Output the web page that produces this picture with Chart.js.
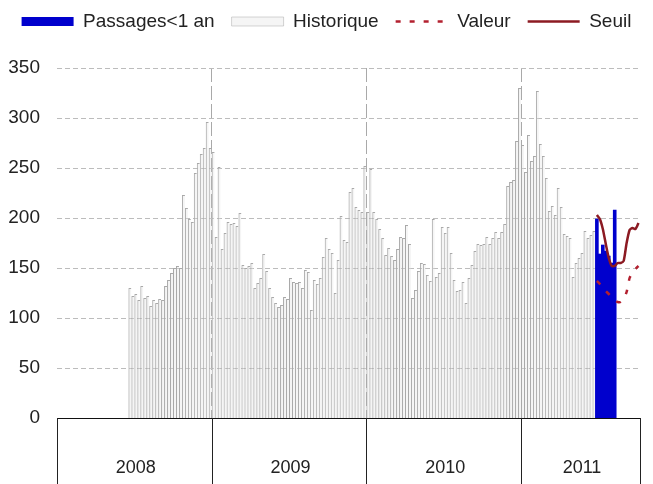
<!DOCTYPE html>
<html>
<head>
<meta charset="utf-8">
<script src="https://cdn.jsdelivr.net/npm/chart.js@4.4.0/dist/chart.umd.min.js"></script>
<style>
  html, body { margin: 0; padding: 0; background: #fff; }
</style>
</head>
<body>
<canvas id="chart" width="653" height="484"></canvas>
<script>
// weekly series, 2008 to week 40 of 2011
var years = ['2008', '2009', '2010', '2011'];
var weeksPerYear = [52, 52, 52, 40];

// Historique starts at week 25 of 2008 (index 24)
var historiqueStart = 24;
var historique = [
  // 2008
  130, 122, 124, 118, 132, 120, 122, 112, 118, 115, 119, 118, 132, 138,
  145, 150, 152, 150, 223, 210, 199, 196, 245, 255, 264, 270, 296, 270,
  // 2009
  266, 181, 251, 169, 185, 196, 194, 195, 192, 205, 153, 150, 152, 155,
  130, 135, 140, 164, 147, 130, 121, 115, 111, 113, 121, 119,
  140, 136, 135, 136, 130, 148, 146, 108, 138, 134, 140, 161, 180, 169,
  165, 125, 158, 202, 178, 176, 226, 230, 211, 208, 206, 252,
  // 2010
  206, 249, 206, 199, 189, 180, 163, 170, 162, 158,
  169, 181, 180, 193, 174, 120, 128, 147, 155, 154,
  143, 137, 199, 141, 145, 191, 185, 191, 165, 138,
  127, 128, 136, 115, 140, 153, 167, 174, 173, 174,
  181, 174, 180, 186, 180, 186, 194, 232, 236, 238, 277, 330,
  // 2011
  273, 246, 283, 257, 262, 327, 274, 262, 240, 207,
  212, 203, 230, 211, 184, 182, 180, 141, 155, 160,
  165, 187, 180, 183, 187
];

// current season, from week 26 of 2011 (index 181)
var passagesStart = 181;
var passages = [199, 164, 173, 167, 162, 155, 208];

var courbesStart = 181;
var valeur = [137, 134, 130, 127, 124, 121, 118, 116, 116, 119, 126, 140, 145, 149, 152];
var seuil = [203, 199, 189, 174, 160, 152, 152, 155, 155, 157, 175, 188, 190, 189, 195];

var yTicks = [0, 50, 100, 150, 200, 250, 300, 350];

// ---- build what Chart.js needs
var labels = [];
var yearStarts = [];
years.forEach(function (y, k) {
  yearStarts.push(labels.length);
  for (var s = 1; s <= weeksPerYear[k]; s++) {
    labels.push(y + '-S' + (s < 10 ? '0' : '') + s);
  }
});
var yearEdges = yearStarts.concat([labels.length]);

function pad(start, values) {
  var out = [];
  for (var i = 0; i < labels.length; i++) out.push(null);
  values.forEach(function (v, i) { out[start + i] = v; });
  return out;
}

var fontMain = "'Liberation Sans', Arial, sans-serif";

// solid separators under the axis, between the years
var yearBoxes = {
  id: 'yearBoxes',
  afterDraw: function (chart) {
    var xs = chart.scales.x, ctx = chart.ctx, area = chart.chartArea;
    var half = (xs.getPixelForValue(1) - xs.getPixelForValue(0)) / 2;
    ctx.save();
    ctx.strokeStyle = '#222';
    ctx.lineWidth = 1;
    yearEdges.forEach(function (i) {
      var x = Math.round(xs.getPixelForValue(i) - half) + 0.5;
      ctx.beginPath();
      ctx.moveTo(x, area.bottom);
      ctx.lineTo(x, chart.height);
      ctx.stroke();
    });
    ctx.restore();
  }
};

function legendLabels(chart) {
  var items = Chart.defaults.plugins.legend.labels.generateLabels(chart);
  items.forEach(function (it) {
    var ds = chart.data.datasets[it.datasetIndex];
    if (ds.type === 'line') {
      it.lineDash = ds.borderDash || [];
      it.lineWidth = ds.borderWidth;
      it.strokeStyle = ds.borderColor;
    }
  });
  return items;
}

new Chart(document.getElementById('chart'), {
  type: 'bar',
  data: {
    labels: labels,
    datasets: [{
      label: 'Passages<1 an',
      data: pad(passagesStart, passages),
      backgroundColor: '#0000cd',
      borderWidth: 0,
      pointStyle: 'rect',
      grouped: false,
      categoryPercentage: 1,
      barPercentage: 1,
      order: 2,
      xAxisID: 'x'
    }, {
      label: 'Historique',
      data: pad(historiqueStart, historique),
      backgroundColor: 'rgba(226,226,226,0.35)',
      borderColor: '#a9a9a9',
      borderWidth: { left: 1, top: 1, right: 0, bottom: 0 },
      inflateAmount: 0,
      pointStyle: 'rect',
      grouped: false,
      categoryPercentage: 1,
      barPercentage: 1,
      order: 3,
      xAxisID: 'x'
    }, {
      type: 'line',
      label: 'Valeur',
      data: pad(courbesStart, valeur),
      borderColor: '#b3202f',
      backgroundColor: 'rgba(0,0,0,0)',
      borderWidth: 2.5,
      borderDash: [5, 9],
      pointRadius: 0,
      pointStyle: 'line',
      tension: 0.2,
      order: 1,
      xAxisID: 'x'
    }, {
      type: 'line',
      label: 'Seuil',
      data: pad(courbesStart, seuil),
      borderColor: '#8c1a22',
      backgroundColor: 'rgba(0,0,0,0)',
      borderWidth: 2.5,
      pointRadius: 0,
      pointStyle: 'line',
      tension: 0.2,
      order: 0,
      xAxisID: 'x'
    }]
  },
  options: {
    responsive: false,
    animation: false,
    devicePixelRatio: 1,
    events: [],
    layout: { padding: { top: -5, right: 0, bottom: 0, left: 0 } },
    plugins: {
      tooltip: { enabled: false },
      legend: {
        position: 'top',
        labels: {
          usePointStyle: true,
          pointStyleWidth: 52,
          boxHeight: 9,
          padding: 17,
          color: '#222',
          font: { family: fontMain, size: 19 },
          generateLabels: legendLabels,
          sort: function (a, b) { return a.datasetIndex - b.datasetIndex; }
        }
      }
    },
    scales: {
      x: {
        type: 'category',
        position: 'bottom',
        offset: true,
        afterFit: function (s) { s.height = 66; },
        grid: {
          offset: true,
          drawTicks: true,
          tickLength: 39,
          tickColor: 'rgba(0,0,0,0)',
          lineWidth: 1,
          color: function (c) {
            return (c.index === yearStarts[1] || c.index === yearStarts[2] || c.index === yearStarts[3])
              ? '#a9a9a9' : 'rgba(0,0,0,0)';
          }
        },
        border: { display: true, color: '#111', width: 1, dash: [14, 4] },
        ticks: {
          autoSkip: false,
          maxRotation: 0,
          padding: 0,
          color: '#222',
          font: { family: fontMain, size: 18 },
          callback: function (v, index) {
            for (var k = 0; k < years.length; k++) {
              if (index === yearStarts[k] + Math.floor(weeksPerYear[k] / 2)) return years[k];
            }
            return '';
          }
        }
      },
      gapTop: {
        type: 'category',
        position: 'top',
        labels: [''],
        afterFit: function (s) { s.height = 27; },
        grid: { display: false },
        border: { display: false },
        ticks: { display: false }
      },
      gapRight: {
        type: 'linear',
        position: 'right',
        afterFit: function (s) { s.width = 13; },
        grid: { display: false },
        border: { display: false },
        ticks: { display: false }
      },
      y: {
        min: 0,
        max: 350,
        position: 'left',
        afterFit: function (s) { s.width = 57; },
        afterBuildTicks: function (s) { s.ticks = yTicks.map(function (v) { return { value: v }; }); },
        grid: { color: '#bcbcbc', drawTicks: false, lineWidth: 1 },
        border: { display: false, dash: [5, 3] },
        ticks: { padding: 17, color: '#222', font: { family: fontMain, size: 19 } }
      }
    }
  },
  plugins: [yearBoxes]
});
</script>
</body>
</html>
